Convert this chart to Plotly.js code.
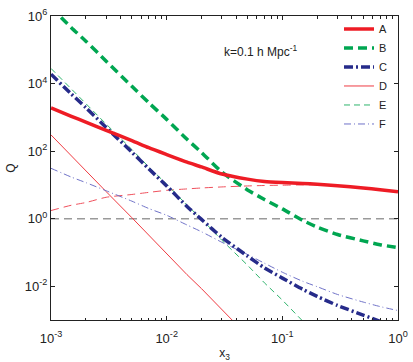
<!DOCTYPE html>
<html>
<head>
<meta charset="utf-8">
<script src="https://cdn.plot.ly/plotly-3.0.1.min.js"></script>
<style>
  html, body { margin: 0; padding: 0; background: #fff; }
  #plotArea { width: 413px; height: 362px; }
</style>
</head>
<body>
<div id="plotArea"></div>
<script>
// x_3 sample points (log spaced)
var x3 = [0.001, 0.0015, 0.002, 0.003, 0.005, 0.007, 0.01, 0.015, 0.02, 0.03,
          0.05, 0.07, 0.1, 0.15, 0.2, 0.3, 0.5, 0.7, 1];

// curves
var qA = [1905, 1070, 725, 410, 204, 126, 79, 47, 34, 21,
          14.8, 12.6, 11.7, 11, 10.5, 9.5, 8.1, 7.2, 6.3];
var qB = [1.8e6, 4.5e5, 1.8e5, 4.6e4, 8300, 2700, 870, 224, 91, 24,
          7.1, 3.7, 1.95, 0.89, 0.56, 0.34, 0.22, 0.17, 0.138];
var qC = [19000, 4900, 1950, 500, 93, 30, 9.3, 2.3, 0.95, 0.28,
          0.078, 0.035, 0.0174, 0.0081, 0.005, 0.0027, 0.0014, 0.00091, 0.00056];
var qD = [302, 71, 27, 6.3, 1.07, 0.32, 0.095, 0.022, 0.0085, 0.002, 0.00034];
var qE = [28000, 6800, 2600, 630, 112, 34, 10.5, 2.5, 0.98, 0.23,
          0.042, 0.0126, 0.0039, 0.00093];
var qF = [31, 17, 11.7, 6.7, 3.3, 2.0, 1.26, 0.65, 0.41, 0.20,
          0.087, 0.048, 0.026, 0.014, 0.0097, 0.0057, 0.0034, 0.0025, 0.0019];
// unlabelled red dashed curve
var qR = [1.74, 2.5, 3.0, 4.3, 5.2, 6.0, 6.9, 7.6, 8.1, 8.7,
          9.3, 9.6, 9.8, 10.0, 10.0, 9.3, 7.9, 7.0, 6.1];
// reference level
var refX = [0.001, 1];
var refY = [1, 1];

var xTicks = [0.001, 0.01, 0.1, 1];
var xTickText = ['10<sup>-3</sup>', '10<sup>-2</sup>', '10<sup>-1</sup>', '10<sup>0</sup>'];
var yTicks = [0.01, 1, 100, 10000, 1000000];
var yTickText = ['10<sup>-2</sup>', '10<sup>0</sup>', '10<sup>2</sup>', '10<sup>4</sup>', '10<sup>6</sup>'];

var smooth = {shape: 'spline', smoothing: 0.6};

var data = [
  {x: refX, y: refY, mode: 'lines', showlegend: false, hoverinfo: 'skip',
   line: {color: '#9a9a9a', width: 1.5, dash: '8px,5px'}},
  {x: x3, y: qR, mode: 'lines', showlegend: false,
   line: Object.assign({color: '#f0505c', width: 1, dash: '8px,5px'}, smooth)},
  {x: x3.slice(0, qD.length), y: qD, mode: 'lines', name: 'D',
   line: {color: '#ef3b42', width: 1}},
  {x: x3.slice(0, qE.length), y: qE, mode: 'lines', name: 'E',
   line: {color: '#2fb46c', width: 1, dash: '6px,4px'}},
  {x: x3, y: qF, mode: 'lines', name: 'F',
   line: Object.assign({color: '#6f72c8', width: 1, dash: '7px,3px,1px,3px'}, smooth)},
  {x: x3, y: qC, mode: 'lines', name: 'C',
   line: Object.assign({color: '#262b8a', width: 3.5, dash: '9px,3px,2px,3px'}, smooth)},
  {x: x3, y: qB, mode: 'lines', name: 'B',
   line: Object.assign({color: '#00a651', width: 3.5, dash: '9px,5px'}, smooth)},
  {x: x3, y: qA, mode: 'lines', name: 'A',
   line: Object.assign({color: '#ee1c25', width: 3.5}, smooth)}
];

var fam = 'Liberation Sans, Arial, sans-serif';
var tickFont = {family: fam, size: 13, color: '#222'};
var titleFont = {family: fam, size: 12, color: '#222'};

var layout = {
  width: 413,
  height: 362,
  margin: {l: 51, r: 15, t: 16, b: 42},
  paper_bgcolor: '#fff',
  plot_bgcolor: '#fff',
  font: titleFont,
  xaxis: {
    type: 'log',
    range: [-3, 0],
    tickmode: 'array',
    tickvals: xTicks,
    ticktext: xTickText,
    ticks: 'inside',
    ticklen: 4,
    tickcolor: '#222',
    ticklabelstandoff: 6,
    showline: true,
    linecolor: '#222',
    linewidth: 1,
    mirror: 'ticks',
    showgrid: false,
    zeroline: false,
    tickfont: tickFont,
    minor: {ticks: 'inside', ticklen: 2.5, tickcolor: '#222', tickmode: 'linear', tick0: 0, dtick: 'D1', showgrid: false},
    title: {text: 'x<sub>3</sub>', font: titleFont, standoff: 4}
  },
  yaxis: {
    type: 'log',
    range: [-3, 6],
    tickmode: 'array',
    tickvals: yTicks,
    ticktext: yTickText,
    ticks: 'inside',
    ticklen: 4,
    tickcolor: '#222',
    showline: true,
    linecolor: '#222',
    linewidth: 1,
    mirror: 'ticks',
    showgrid: false,
    zeroline: false,
    tickfont: tickFont,
    title: {text: 'Q', font: titleFont, standoff: 6}
  },
  showlegend: true,
  legend: {
    x: 0.83, xanchor: 'left',
    y: 1.005, yanchor: 'top',
    bgcolor: 'rgba(0,0,0,0)',
    borderwidth: 0,
    tracegroupgap: 0,
    traceorder: 'normal',
    font: {family: fam, size: 11, color: '#222'}
  },
  annotations: [{
    xref: 'paper', yref: 'paper',
    x: 0.493, y: 0.885, xanchor: 'left', yanchor: 'middle',
    text: 'k=0.1 h Mpc<sup>-1</sup>',
    showarrow: false,
    font: {family: fam, size: 12, color: '#222'}
  }]
};

// legend order A..F
var order = ['A', 'B', 'C', 'D', 'E', 'F'];
data.forEach(function (t) {
  if (t.name) { t.legendrank = order.indexOf(t.name) + 1; }
});

Plotly.newPlot('plotArea', data, layout, {displayModeBar: false, staticPlot: true});
</script>
</body>
</html>
